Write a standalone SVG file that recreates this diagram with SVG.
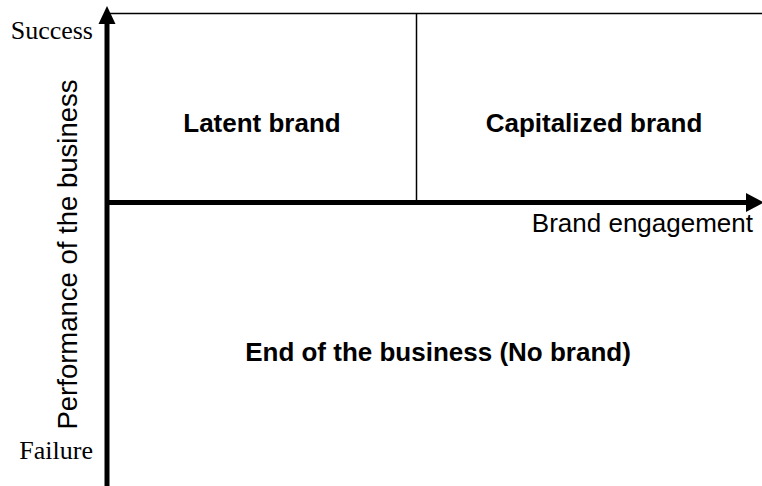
<svg xmlns="http://www.w3.org/2000/svg" width="762" height="486" viewBox="0 0 762 486">
<style>
.sans{font-family:"Liberation Sans",Arial,sans-serif;font-size:26px;fill:#000}
.bold{font-weight:bold}
.serif{font-family:"Liberation Serif","Times New Roman",serif;font-size:26px;fill:#000}
.thin{stroke:#000;stroke-width:1.5;fill:none}
.axis{stroke:#000;stroke-width:5;fill:none}
</style>
<rect width="762" height="486" fill="#fff"/>
<g id="connectors">
<line class="thin" x1="109" y1="13.5" x2="762" y2="13.5"/>
<line class="thin" x1="416.5" y1="13.5" x2="416.5" y2="202"/>
<line class="axis" x1="105" y1="202.5" x2="748" y2="202.5"/>
<polygon points="746,193 764,202.5 746,212" fill="#000"/>
<line class="axis" x1="107" y1="22" x2="107" y2="486"/>
<polygon points="98.5,24 107,6 115.5,24" fill="#000"/>
</g>
<g id="latent"><text class="sans bold" x="262" y="132" text-anchor="middle">Latent brand</text></g>
<g id="capitalized"><text class="sans bold" x="594" y="132" text-anchor="middle">Capitalized brand</text></g>
<g id="end"><text class="sans bold" x="438" y="361" text-anchor="middle">End of the business (No brand)</text></g>
<g id="x-label"><text class="sans" x="753" y="231.5" text-anchor="end">Brand engagement</text></g>
<g id="y-label"><text class="sans" transform="translate(77,254.5) rotate(-90)" text-anchor="middle" style="font-size:27.5px">Performance of the business</text></g>
<g id="success"><text class="serif" x="93" y="38.5" text-anchor="end">Success</text></g>
<g id="failure"><text class="serif" x="93" y="459" text-anchor="end">Failure</text></g>
</svg>
